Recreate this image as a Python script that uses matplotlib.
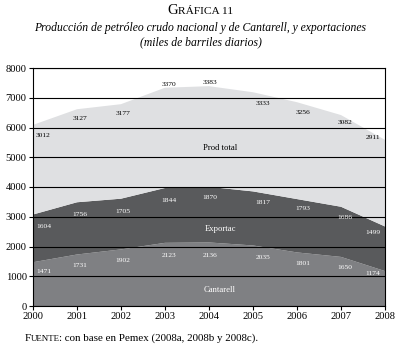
import matplotlib
matplotlib.use("Agg")
import matplotlib.pyplot as plt
import numpy as np

plt.rcParams['font.family'] = ['Liberation Serif', 'DejaVu Serif']

# data (miles de barriles diarios)
years = [2000, 2001, 2002, 2003, 2004, 2005, 2006, 2007, 2008]
cantarell = [1471, 1731, 1902, 2123, 2136, 2035, 1801, 1650, 1174]
exportac = [1604, 1756, 1705, 1844, 1870, 1817, 1793, 1686, 1499]
prod_total = [3012, 3127, 3177, 3370, 3383, 3333, 3256, 3082, 2911]
series_names = ['Cantarell', 'Exportac', 'Prod total']

# label placement tweaks (offsets from the top of each layer)
dx = [0.24, 0.07, 0.05, 0.1, 0.03, 0.23, 0.14, 0.09, -0.28]
dy_cant = [-295, -376, -356, -442, -455, -411, -365, -350, -76]
dy_exp = [-409, -395, -414, -404, -352, -380, -323, -353, -206]
dy_tot = [-363, -328, -330, 125, 117, -395, -353, -244, 86]

colors = ['#7f8083', '#595a5c', '#dfe0e2']
text_colors = ['white', 'white', 'black']

fig = plt.figure(figsize=(4.01, 3.5), dpi=100)
ax = fig.add_axes([33/401, 1-306/350, 352/401, 238/350])

ax.stackplot(years, cantarell, exportac, prod_total, colors=colors, linewidth=0, zorder=1)

ax.set_xlim(2000, 2008)
ax.set_ylim(0, 8000)
ax.set_xticks(years)
ax.set_yticks(np.arange(0, 8001, 1000))
ax.yaxis.grid(True, color='black', linewidth=0.8, zorder=2)
ax.set_axisbelow(False)
for s in ax.spines.values():
    s.set_linewidth(0.8)
ax.tick_params(axis='both', labelsize=7.6, length=3, width=0.8, pad=1.5)

base1 = np.array(cantarell)
base2 = base1 + np.array(exportac)
base3 = base2 + np.array(prod_total)
layers = [(cantarell, base1, dy_cant), (exportac, base2, dy_exp), (prod_total, base3, dy_tot)]
for k, (vals, top, dys) in enumerate(layers):
    for i, v in enumerate(vals):
        ax.text(years[i] + dx[i], top[i] + dys[i], str(v), fontsize=5.4,
                color=text_colors[k], ha='center', va='center', zorder=3)

# series names in the middle of each band
name_y = [538, 2577, 5320]
for k, nm in enumerate(series_names):
    ax.text(2004.25, name_y[k], nm, fontsize=6.2, color=text_colors[k],
            ha='center', va='center', zorder=3)


def small_caps(x, y, big, rest, size_big, size_small, ha='center'):
    # draw a first capital plus smaller capitals after it
    fig.canvas.draw()
    r = fig.canvas.get_renderer()
    t1 = fig.text(0, y, big, fontsize=size_big, va='baseline')
    t2 = fig.text(0, y, rest, fontsize=size_small, va='baseline')
    w1 = t1.get_window_extent(r).width / fig.bbox.width
    w2 = t2.get_window_extent(r).width / fig.bbox.width
    x0 = x - (w1 + w2) / 2 if ha == 'center' else x
    t1.set_x(x0)
    t2.set_x(x0 + w1)
    return t2


small_caps(0.5, 1 - 14/350, 'G', 'RÁFICA 11', 10.5, 8.2)
fig.text(0.5, 1 - 28/350, 'Producción de petróleo crudo nacional y de Cantarell, y exportaciones',
         fontsize=8.4, style='italic', ha='center', va='center')
fig.text(0.5, 1 - 42/350, '(miles de barriles diarios)',
         fontsize=8.4, style='italic', ha='center', va='center')
last = small_caps(25/401, 1 - 341/350, 'F', 'UENTE', 8.2, 6.4, ha='left')
fig.canvas.draw()
r = fig.canvas.get_renderer()
ext = last.get_window_extent(r)
fig.text((ext.x1 - 1) / fig.bbox.width, 1 - 341/350,
         ': con base en Pemex (2008a, 2008b y 2008c).', fontsize=7.9, va='baseline')

fig.savefig('out.png', dpi=100)
